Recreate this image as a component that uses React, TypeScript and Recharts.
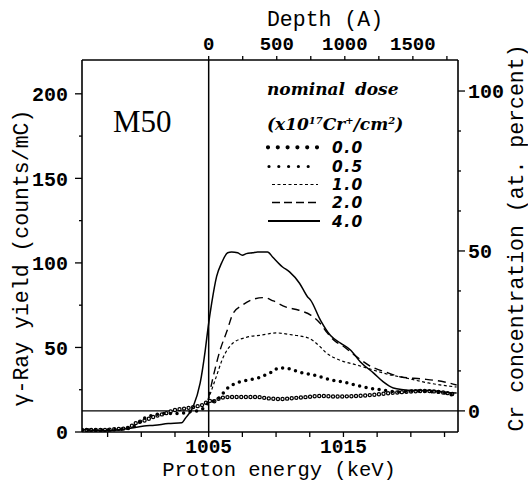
import React from "react"
import { ComposedChart, Line, XAxis, YAxis, ReferenceLine } from "recharts"

// proton energy (keV) and gamma-ray yield for each nominal dose
const e40 = [995.6, 996.5, 997.5, 998.5, 999.3, 1000.2, 1001.0, 1002.0, 1003.0, 1003.26, 1003.85, 1004.37, 1004.74, 1004.96, 1005.22, 1005.59, 1005.96, 1006.41, 1006.7, 1007.15, 1007.5, 1007.8, 1008.26, 1008.63, 1009.37, 1009.74, 1010.48, 1011.0, 1011.74, 1012.33, 1012.56, 1013.3, 1014.04, 1014.78, 1015.52, 1016.26, 1017.22, 1017.96, 1018.7, 1019.44, 1020.5, 1021.5, 1022.5, 1023.4]
const y40 = [1.5, 1, 0.8, 1.5, 2.4, 3.5, 4, 5, 5.5, 8, 15, 29, 48, 62, 76, 92, 100, 106, 106.5, 106, 104.5, 105.5, 106, 106.5, 106.5, 103.5, 97.6, 94.7, 88, 80, 78, 66, 57, 52.6, 48.5, 41.4, 35, 29.6, 26, 25, 24.5, 24.5, 23.5, 23]

const e20 = [1004.96, 1005.33, 1005.85, 1006.37, 1006.8, 1007.5, 1008.3, 1009.1, 1009.8, 1010.7, 1011.7, 1012.6, 1013.3, 1013.8, 1014.5, 1014.85, 1015.8, 1017.1, 1018.1, 1019.3, 1020.8, 1022.5, 1023.4]
const y20 = [19, 32.5, 48.5, 60, 70, 75, 78.5, 79.5, 77.5, 74, 72, 69, 64, 58.6, 53, 51.5, 45.6, 38.5, 35.5, 32.5, 31.4, 29.6, 27.8]

const e10 = [1004.96, 1005.48, 1006.07, 1006.8, 1007.8, 1009.0, 1010.0, 1011.2, 1012.4, 1013.2, 1013.7, 1014.7, 1016.0, 1017.2, 1018.2, 1019.6, 1021.3, 1023.4]
const y10 = [19, 30.8, 44, 52.6, 56, 57.4, 58.6, 57.4, 55.6, 51, 47, 42.6, 39.6, 36.7, 34.3, 32, 29, 26.6]

const e05 = [995.6, 996.9, 998.2, 999.0, 999.6, 1000.2, 1000.9, 1001.9, 1002.9, 1003.6, 1004.4, 1004.96, 1005.6, 1006.5, 1007.3, 1008.0, 1008.7, 1009.2, 1009.7, 1010.2, 1010.9, 1011.7, 1012.8, 1014.1, 1015.3, 1016.5, 1017.8, 1019.0, 1020.3, 1021.6, 1022.6, 1023.4]
const y05 = [1.2, 1.2, 1.5, 2, 4, 8, 10, 11, 11, 12, 13, 17, 19, 26.6, 29.6, 30.8, 32, 33.7, 35.5, 37.9, 37.5, 35.5, 33.7, 30.8, 29, 26.6, 24.9, 23.7, 24.3, 23.7, 23, 20.7]

const e00 = [995.6, 997.0, 998.3, 999.0, 999.6, 1000.3, 1001.1, 1001.8, 1002.5, 1003.3, 1004.0, 1004.7, 1005.0, 1005.3, 1005.85, 1006.6, 1007.6, 1008.6, 1009.3, 1010.3, 1011.2, 1012.3, 1013.2, 1014.5, 1016.0, 1017.2, 1018.4, 1019.6, 1020.9, 1022.3, 1023.4]
const y00 = [1.2, 1.2, 1.8, 2.4, 5.3, 7, 9.5, 11, 13, 14, 15, 16.6, 18.5, 18, 20, 20.7, 20.7, 20.7, 20, 19.5, 20, 20.7, 21.3, 21, 21.3, 22, 23, 23.7, 24.3, 23.5, 22]

const energyTicks = [997.5, 1000, 1002.5, 1005, 1007.5, 1010, 1012.5, 1015, 1017.5, 1020, 1022.5]
const energyLabels = [1005, 1015]
const depthTicks = [0, 250, 500, 750, 1000, 1250, 1500, 1750]
const depthLabels = [0, 500, 1000, 1500]
const yieldTicks = [0, 25, 50, 75, 100, 125, 150, 175, 200]
const yieldLabels = [0, 50, 100, 150, 200]
const crTicks = [0, 12.5, 25, 37.5, 50, 62.5, 75, 87.5, 100]
const crLabels = [0, 50, 100]
const doses = ["0.0", "0.5", "1.0", "2.0", "4.0"]

const eDomain = [995.6, 1023.5]
const depthPerKeV = 99
const depthDomain = [(eDomain[0] - 1005) * depthPerKeV, (eDomain[1] - 1005) * depthPerKeV]

const toPts = (xs: number[], ys: number[]) => xs.map((e, i) => ({ e, y: ys[i] }))

const MONO = '"Liberation Mono", "DejaVu Sans Mono", monospace'
const tickFont = { fontFamily: MONO, fontSize: 20, fontWeight: "bold", fill: "#000" }

function makeTick(side: string, labels: number[]) {
    return (props: any) => {
        const { x, y, payload } = props
        const v = payload.value
        const major = labels.includes(v)
        let line, text = null
        if (side === "left") {
            const len = major ? 7 : 3
            line = <line x1={x} y1={y} x2={x - len} y2={y} stroke="#000" strokeWidth={1.3} />
            if (major) text = <text x={x - 14} y={y} dy="0.36em" textAnchor="end" {...tickFont}>{v}</text>
        } else if (side === "right") {
            const len = major ? 7 : 3
            line = <line x1={x} y1={y} x2={x + len} y2={y} stroke="#000" strokeWidth={1.3} />
            if (major) text = <text x={x + 10} y={y} dy="0.36em" textAnchor="start" {...tickFont}>{v}</text>
        } else if (side === "bottom") {
            line = <line x1={x} y1={y} x2={x} y2={y + 5} stroke="#000" strokeWidth={1.3} />
            if (major) text = <text x={x} y={y + 21} textAnchor="middle" {...tickFont} fontSize={19.5}>{v}</text>
        } else {
            line = <line x1={x} y1={y} x2={x} y2={y - 4} stroke="#000" strokeWidth={1.3} />
            if (major) text = <text x={x} y={y - 10} textAnchor="middle" {...tickFont} fontSize={19}>{v}</text>
        }
        return <g>{line}{text}</g>
    }
}

const axisLine = { stroke: "#000", strokeWidth: 1.6 }

export default function App() {
    return (
        <div style={{ position: "absolute", left: 0, top: 0, width: 528, height: 482, background: "#fff" }}>
            <ComposedChart width={528} height={482} margin={{ top: 30, right: 10, bottom: 20, left: 22 }}>
                <XAxis xAxisId="e" dataKey="e" type="number" domain={eDomain} ticks={energyTicks} allowDataOverflow
                    interval={0} height={30} tickSize={0} tickMargin={0} tickLine={false} axisLine={axisLine}
                    tick={makeTick("bottom", energyLabels)} />
                <XAxis xAxisId="d" dataKey="d" orientation="top" type="number" domain={depthDomain} ticks={depthTicks} allowDataOverflow
                    interval={0} height={30} tickSize={0} tickMargin={0} tickLine={false} axisLine={axisLine}
                    tick={makeTick("top", depthLabels)} />
                <YAxis yAxisId="g" type="number" domain={[0, 220]} ticks={yieldTicks} allowDataOverflow
                    interval={0} width={60} tickSize={0} tickMargin={0} tickLine={false} axisLine={axisLine}
                    tick={makeTick("left", yieldLabels)} />
                <YAxis yAxisId="c" orientation="right" type="number" domain={[-6.6, 109.7]} ticks={crTicks} allowDataOverflow
                    interval={0} width={60} tickSize={0} tickMargin={0} tickLine={false} axisLine={axisLine}
                    tick={makeTick("right", crLabels)} />
                <ReferenceLine xAxisId="e" yAxisId="g" x={1005} stroke="#000" strokeWidth={1.5} />
                <ReferenceLine xAxisId="e" yAxisId="c" y={0} stroke="#000" strokeWidth={1.3} />

                <Line xAxisId="e" yAxisId="g" data={toPts(e00, y00)} dataKey="y" type="monotone" stroke="#000"
                    strokeWidth={4.4} strokeDasharray="0 4.6" strokeLinecap="round" dot={false} isAnimationActive={false} />
                <Line xAxisId="e" yAxisId="g" data={toPts(e00, y00)} dataKey="y" type="monotone" stroke="#fff"
                    strokeWidth={1.9} strokeDasharray="0 4.6" strokeLinecap="round" dot={false} isAnimationActive={false} />
                <Line xAxisId="e" yAxisId="g" data={toPts(e05, y05)} dataKey="y" type="monotone" stroke="#000"
                    strokeWidth={3.5} strokeDasharray="0 6.6" strokeLinecap="round" dot={false} isAnimationActive={false} />
                <Line xAxisId="e" yAxisId="g" data={toPts(e10, y10)} dataKey="y" type="monotone" stroke="#000"
                    strokeWidth={1.2} strokeDasharray="3 2.5" dot={false} isAnimationActive={false} />
                <Line xAxisId="e" yAxisId="g" data={toPts(e20, y20)} dataKey="y" type="monotone" stroke="#000"
                    strokeWidth={1.4} strokeDasharray="8 5" dot={false} isAnimationActive={false} />
                <Line xAxisId="e" yAxisId="g" data={toPts(e40, y40)} dataKey="y" type="monotone" stroke="#000"
                    strokeWidth={1.5} dot={false} isAnimationActive={false} />
            </ComposedChart>

            <svg width={528} height={482} style={{ position: "absolute", left: 0, top: 0, pointerEvents: "none" }}>
                <g fontFamily={MONO} fontSize={21.5} fill="#000">
                    <text x={325} y={26} textAnchor="middle">Depth (A)</text>
                    <text x={279} y={476} textAnchor="middle" fontSize={20.5}>Proton energy (keV)</text>
                    <text transform="translate(28,258) rotate(-90)" textAnchor="middle">γ-Ray yield (counts/mC)</text>
                    <text transform="translate(523,238) rotate(-90)" textAnchor="middle">Cr concentration (at. percent)</text>
                </g>
                <text x={113} y={132} fontFamily='"Liberation Serif", serif' fontSize={31}>M50</text>

                <g fontFamily='"DejaVu Serif", serif' fontWeight="bold" fontStyle="italic" fontSize={17}>
                    <text x={267} y={95} wordSpacing={4}>nominal dose</text>
                    <text x={267} y={130}>(x10<tspan dy={-6} fontSize={10}>17</tspan><tspan dy={6}>Cr</tspan><tspan dy={-6} fontSize={10}>+</tspan><tspan dy={6}>/cm</tspan><tspan dy={-6} fontSize={10}>2</tspan><tspan dy={6}>)</tspan></text>
                </g>
                {doses.map((d, i) => {
                    const cy = [147.3, 166.5, 184.5, 202.5, 221][i]
                    let sample
                    if (i === 0) sample = <line x1={268} x2={318} y1={cy} y2={cy} stroke="#000" strokeWidth={4.2} strokeDasharray="0 9.8" strokeLinecap="round" />
                    else if (i === 1) sample = <line x1={269} x2={318} y1={cy} y2={cy} stroke="#000" strokeWidth={3.2} strokeDasharray="0 9.8" strokeLinecap="round" />
                    else if (i === 2) sample = <line x1={272} x2={318} y1={cy} y2={cy} stroke="#000" strokeWidth={1.2} strokeDasharray="3 2.5" />
                    else if (i === 3) sample = <line x1={272} x2={318} y1={cy} y2={cy} stroke="#000" strokeWidth={1.6} strokeDasharray="8 4" />
                    else sample = <line x1={268} x2={320} y1={cy} y2={cy} stroke="#000" strokeWidth={1.8} />
                    return (
                        <g key={d}>
                            {sample}
                            <text x={332} y={cy + 5.5} fontFamily='"DejaVu Sans", sans-serif' fontWeight="bold" fontStyle="italic" fontSize={15.4} letterSpacing={1.5}>{d}</text>
                        </g>
                    )
                })}
            </svg>
        </div>
    )
}
